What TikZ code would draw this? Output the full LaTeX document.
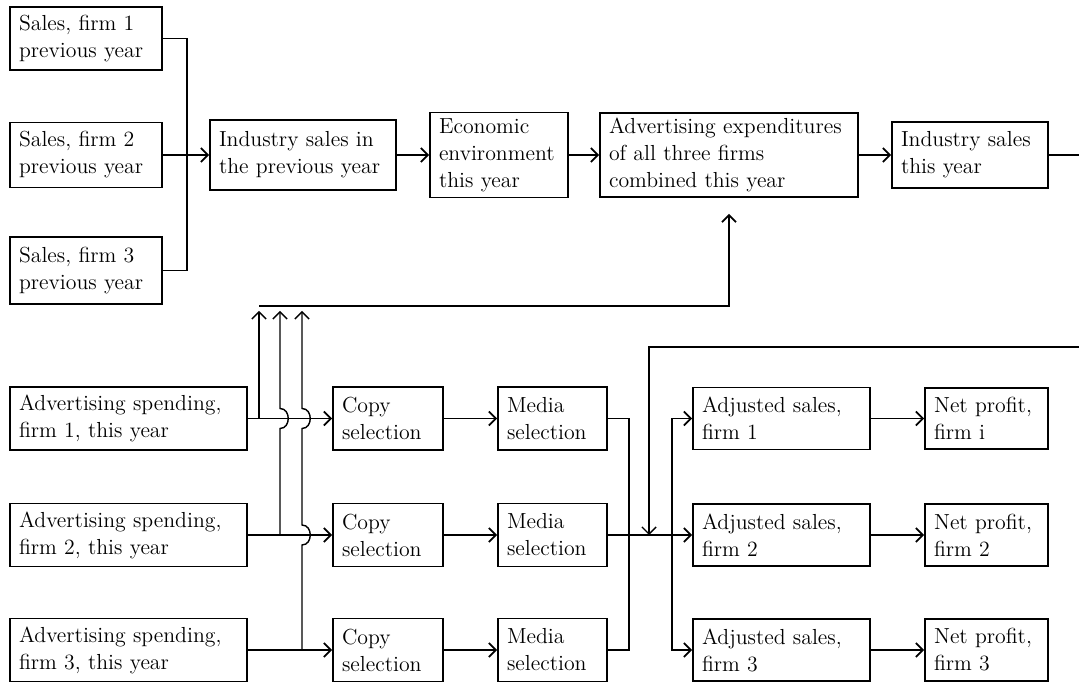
\documentclass[tikz,border=0pt]{standalone}
\usepackage{fontspec}
\usetikzlibrary{arrows.meta,positioning,calc}

\tikzset{
  box/.style 2 args={draw, line width=1pt, align=left, inner xsep=0.18cm, inner ysep=0pt,
    text width=#1, minimum height=#2, font=\fontsize{12.4}{15.4}\selectfont},
  arr/.style={-{Straight Barb[length=4pt,width=8pt]}},
  conn/.style={line width=1pt},
  riser/.style={line width=0.8pt}
}

\begin{document}
\begin{tikzpicture}[x=0.02cm, y=-0.02cm]
    \useasboundingbox (0,0) rectangle (1079,685);

    % Sales of the previous year
    \node[box={2.68cm}{1.26cm}] (s1) at (86,38.5) {Sales, firm 1\\previous year};
    \node[box={2.68cm}{1.3cm}] (s2) at (86,155) {Sales, firm 2\\previous year};
    \node[box={2.68cm}{1.34cm}] (s3) at (86,270.5) {Sales, firm 3\\previous year};

    % Industry chain, top row
    \node[box={3.36cm}{1.4cm}] (ip) at (303,155) {Industry sales in\\the previous year};
    \node[box={2.4cm}{1.7cm}] (ec) at (499,155) {Economic\\environment\\this year};
    \node[box={4.8cm}{1.68cm}] (ae) at (729,155) {Advertising expenditures\\of all three firms\\combined this year};
    \node[box={2.76cm}{1.32cm}] (it) at (970,155) {Industry sales\\this year};

    % Firm rows
    \foreach \k/\y in {1/418.5, 2/535, 3/650} {
      \node[box={4.38cm}{1.26cm}] (a\k) at (128.5,\y) {Advertising spending,\\firm \k, this year};
      \node[box={1.84cm}{1.26cm}] (c\k) at (388,\y) {Copy\\selection};
      \node[box={1.82cm}{1.26cm}] (m\k) at (552.5,\y) {Media\\selection};
      \node[box={3.18cm}{1.24cm}] (j\k) at (781.5,\y) {Adjusted sales,\\firm \k};
    }
    \node[box={2.1cm}{1.22cm}] (n1) at (986.5,418.5) {Net profit,\\firm i};
    \node[box={2.1cm}{1.24cm}] (n2) at (986.5,535) {Net profit,\\firm 2};
    \node[box={2.1cm}{1.24cm}] (n3) at (986.5,650) {Net profit,\\firm 3};

    % guide coordinates
    \coordinate (v1) at (259,0);
    \coordinate (v2) at (280,0);
    \coordinate (v3) at (302,0);
    \coordinate (hl) at (0,306);
    \coordinate (mb) at (629,0);
    \coordinate (jb) at (672,0);
    \coordinate (fb) at (649,0);
    \coordinate (r1) at (1079,0);
    \coordinate (r2) at (1079,347);

    % top row connectors
    \draw[conn] (s1.east) -- ++(24,0) |- (s3.east);
    \draw[conn,arr] (s2.east) -- (ip.west);
    \draw[conn,arr] (ip.east) -- (ec.west);
    \draw[conn,arr] (ec.east) -- (ae.west);
    \draw[conn,arr] (ae.east) -- (it.west);
    \draw[conn] (it.east) -- (it.east -| r1);

    % firm rows
    \foreach \k in {1,2,3} {
      \draw[conn,arr] (a\k.east) -- (c\k.west);
      \draw[conn,arr] (c\k.east) -- (m\k.west);
      \draw[conn,arr] (j\k.east) -- (n\k.west);
    }
    \draw[conn] (m1.east) -- (m1.east -| mb) |- (m3.east);
    \draw[conn,arr] (m2.east) -- (j2.west);
    \draw[conn,arr] (m2.east -| jb) |- (j1.west);
    \draw[conn,arr] (m2.east -| jb) |- (j3.west);

    % spending risers with jumps
    \draw[riser,arr] (a1.east -| v1) -- ($(v1 |- hl)+(0,5)$);
    \draw[riser,arr] (a2.east -| v2) -- ($(v2 |- a1.east)+(0,10)$)
        .. controls +(11,0) and +(11,0) .. ++(0,-20) -- ($(v2 |- hl)+(0,5)$);
    \draw[riser,arr] (a3.east -| v3) -- ($(v3 |- a2.east)+(0,10)$)
        .. controls +(11,0) and +(11,0) .. ++(0,-20) -- ($(v3 |- a1.east)+(0,10)$)
        .. controls +(11,0) and +(11,0) .. ++(0,-20) -- ($(v3 |- hl)+(0,5)$);
    \draw[conn,arr,shorten >=0.32cm] (v1 |- hl) -| (ae.south);

    % industry sales fed back to the firms
    \draw[riser,arr] (r2) -| (m2.east -| fb);
\end{tikzpicture}
\end{document}
